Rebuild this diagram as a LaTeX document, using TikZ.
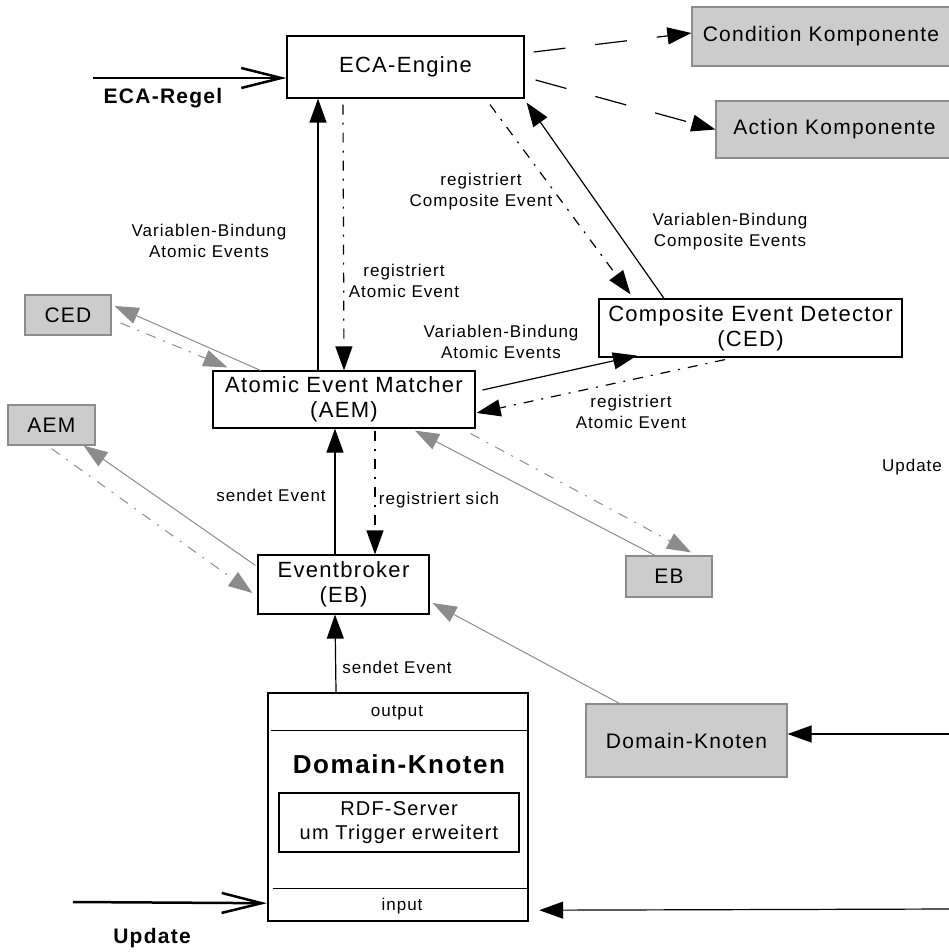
\documentclass[tikz,border=0pt]{standalone}
\usepackage{fontspec}
\setmainfont{Liberation Sans}[LetterSpace=6]
\usetikzlibrary{arrows.meta}
\definecolor{grayfill}{HTML}{CCCCCC}
\definecolor{grayline}{HTML}{8C8C8C}
\tikzset{
  box/.style={draw, line width=1.2pt, fill=white, align=center, inner sep=0pt,
    font=\fontsize{22}{25}\selectfont},
  gbox/.style={draw=grayline, line width=1.2pt, fill=grayfill, align=center, inner sep=0pt,
    font=\fontsize{21}{25}\selectfont},
  lbl/.style={align=center, inner sep=0pt, font=\fontsize{17}{21}\selectfont},
  sendarrow/.style={line width=1.2pt, -{Triangle[length=24pt,width=17pt]}},
  regarrow/.style={sendarrow, dash pattern=on 10pt off 8pt on 2pt off 8pt},
  askarrow/.style={sendarrow, dash pattern=on 32pt off 30pt},
  grayarrow/.style={sendarrow, draw=grayline, line width=1pt, -{Triangle[length=24pt,width=17pt,fill=grayline]}},
  grayreg/.style={grayarrow, dash pattern=on 10pt off 8pt on 2pt off 8pt},
  inarrow/.style={line width=2.5pt, -{Straight Barb[length=40pt,width=20pt]}}
}
\begin{document}
\begin{tikzpicture}[x=1pt,y=-1pt]
  \useasboundingbox (0,0) rectangle (949,952);
  \node[box, minimum width=237pt, minimum height=62pt] (eca) at (405.5,67) {ECA-Engine};
  \node[gbox, minimum width=258pt, minimum height=59pt] (cond) at (821,36.5) {Condition Komponente};
  \node[gbox, minimum width=237pt, minimum height=57pt] (act) at (834.5,129.5) {Action Komponente};
  \node[box, minimum width=303pt, minimum height=58pt] (ced) at (750.5,328) {Composite Event Detector\\(CED)};
  \node[box, minimum width=262pt, minimum height=57pt] (aem) at (344,399.5) {Atomic Event Matcher\\(AEM)};
  \node[box, minimum width=171pt, minimum height=59pt] (eb) at (343.5,584.5) {Eventbroker\\(EB)};
  \node[gbox, minimum width=86pt, minimum height=40pt] (cedsmall) at (68,315) {CED};
  \node[gbox, minimum width=87pt, minimum height=40pt] (aemsmall) at (51.5,425) {AEM};
  \node[gbox, minimum width=86pt, minimum height=41pt] (ebsmall) at (669,576.5) {EB};
  \node[gbox, minimum width=201pt, minimum height=73pt] (dk) at (686.5,740.5) {Domain-Knoten};

  \node[draw, line width=2.4pt, minimum width=260pt, minimum height=228pt] (dom) at (398,807) {};
  \draw[line width=1.2pt] ([xshift=4pt,yshift=-39pt]dom.north west) -- ([yshift=-39pt]dom.north east);
  \draw[line width=1.2pt] ([xshift=6pt,yshift=34pt]dom.south west) -- ([yshift=34pt]dom.south east);
  \node[lbl] (output) at (397,713) {output};
  \node[font=\bfseries\fontsize{26}{31}\selectfont] (domtitle) at (399,764) {Domain-Knoten};
  \node[box, minimum width=240pt, minimum height=59pt, font=\fontsize{20}{24}\selectfont] (rdf) at (399,822.5) {RDF-Server\\um Trigger erweitert};
  \node[lbl] (input) at (402,906) {input};

  \coordinate (regelin) at (93,78);
  \coordinate (updin) at (73,902);
  \coordinate (rightin) at (952,734);
  \coordinate (rightupd) at (952,909);

  \draw[inarrow] (regelin) -- ([yshift=-11pt]eca.west);
  \node[font=\bfseries\fontsize{21}{25}\selectfont] (regel) at (163,98) {ECA-Regel};
  \draw[askarrow] ([xshift=9pt,yshift=15pt]eca.east) -- ([yshift=3.5pt]cond.west);
  \draw[askarrow] ([xshift=11pt,yshift=-13pt]eca.east) -- (act.west);

  \draw[sendarrow] ([xshift=-26pt]aem.north) -- ([xshift=-87.5pt]eca.south);
  \draw[regarrow] ([xshift=-62.5pt,yshift=-6pt]eca.south) -- (aem.north);
  \node[lbl] (bindae) at (209,241) {Variablen-Bindung\\Atomic Events};
  \node[lbl] (regae) at (404,281) {registriert\\Atomic Event};

  \draw[regarrow] ([xshift=84.5pt,yshift=-6pt]eca.south) -- ([xshift=-120pt,yshift=4pt]ced.north);
  \draw[sendarrow] ([xshift=-86.5pt]ced.north) -- ([xshift=2pt,yshift=-4pt]eca.south east);
  \node[lbl] (regce) at (481,192) {registriert\\Composite Event};
  \node[lbl] (bindce) at (730,232) {Variablen-Bindung\\Composite Events};

  \draw[sendarrow] ([xshift=7pt,yshift=9.5pt]aem.east) -- ([xshift=-113.5pt,yshift=2pt]ced.south);
  \draw[regarrow] ([xshift=-25.5pt,yshift=-2pt]ced.south) -- ([xshift=1pt,yshift=-13.5pt]aem.east);
  \node[lbl] (bindae2) at (501,342) {Variablen-Bindung\\Atomic Events};
  \node[lbl] (regae2) at (631,412) {registriert\\Atomic Event};

  \draw[grayarrow] ([xshift=48pt]aem.north west) -- ([xshift=3pt,yshift=9pt]cedsmall.east);
  \draw[grayreg] ([xshift=9pt,yshift=-8pt]cedsmall.east) -- ([xshift=15pt,yshift=3pt]aem.north west);
  \draw[grayarrow] ([xshift=-2pt,yshift=-11pt]eb.north west) -- ([xshift=-12pt]aemsmall.south east);
  \draw[grayreg] ([yshift=-3pt]aemsmall.south) -- ([xshift=-5pt,yshift=-8.5pt]eb.west);
  \draw[grayarrow] ([xshift=-14pt]ebsmall.north) -- ([xshift=71pt,yshift=-2pt]aem.south);
  \draw[grayreg] ([xshift=-5pt,yshift=-5pt]aem.south east) -- ([xshift=22pt,yshift=3pt]ebsmall.north);
  \draw[grayarrow] ([xshift=34pt]dk.north west) -- ([xshift=3pt,yshift=-18.5pt]eb.east);

  \draw[sendarrow] ([xshift=-8.5pt]eb.north) -- ([xshift=-9pt]aem.south);
  \draw[regarrow] ([xshift=31pt,yshift=-2pt]aem.south) -- ([xshift=31.5pt]eb.north);
  \node[lbl] (sendeb) at (271,495) {sendet Event};
  \node[lbl] (regsich) at (439,500) {registriert sich};

  \draw[sendarrow] ([xshift=-62pt]dom.north) -- ([xshift=-8.5pt]eb.south);
  \node[lbl] (senddom) at (397,667) {sendet Event};

  \draw[sendarrow] (rightin) -- ([yshift=6.5pt]dk.east);
  \draw[sendarrow] (rightupd) -- ([xshift=10pt,yshift=12pt]dom.south east);
  \draw[inarrow] (updin) -- ([yshift=19pt]dom.south west);
  \node[font=\bfseries\fontsize{21}{25}\selectfont] (upd) at (152,938) {Update};
  \node[lbl] (updright) at (912,467) {Update};
\end{tikzpicture}
\end{document}
